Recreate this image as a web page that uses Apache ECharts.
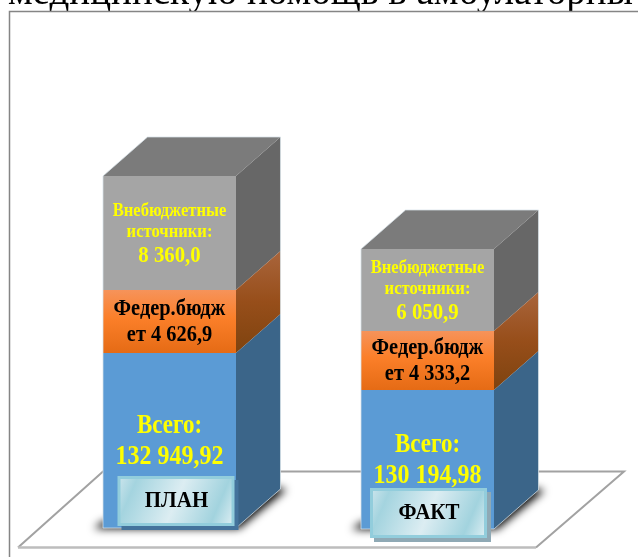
<!DOCTYPE html>
<html><head><meta charset="utf-8">
<style>html,body{margin:0;padding:0;background:#fff;overflow:hidden}#c{width:638px;height:557px}</style>
<script src="https://cdn.jsdelivr.net/npm/echarts@6/dist/echarts.min.js"></script>
</head><body><div id="c"></div>
<script>
// Categories and printed values
const categories = ['ПЛАН', 'ФАКТ'];
const totalLabels = ['132 949,92', '130 194,98'];
const federalLabels = ['4 626,9', '4 333,2'];
const extraLabels = ['8 360,0', '6 050,9'];
// Segment heights as drawn in the picture (the original is not to scale)
const baseLevels = [0, -1];
const blueHeights = [175, 139];
const orangeHeights = [63, 59];
const grayHeights = [114, 82];
const tagLifts = [27, 16];

const title = 'медицинскую помощь в амбулаторны';
const SERIF = '"Liberation Serif","Times New Roman",serif';
const DX = 44.5, DY = 39, FAR = 1500;

const chart = echarts.init(document.getElementById('c'), null, {renderer: 'canvas'});

function vGrad(stops) {
  return {type: 'linear', x: 0, y: 0, x2: 0, y2: 1,
    colorStops: stops.map(c => ({offset: c[0], color: c[1]}))};
}
function txt(x, y, text, size, color, sy) {
  return {type: 'text', x, y, scaleY: sy || 1, silent: true,
    style: {x: 0, y: 0, text, fontFamily: SERIF, fontWeight: 'bold', fontSize: size,
      fill: color, align: 'center', verticalAlign: 'middle'}};
}
function poly(points, fill, extra) {
  return {type: 'polygon', shape: {points}, silent: true,
    style: Object.assign({fill}, extra || {})};
}

function renderBar(params, api) {
  const i = api.value(0);
  const cx = api.coord([i, 0])[0];
  const w = api.size([1, 0])[0] * 0.5155;
  const x0 = cx - w / 2, x1 = cx + w / 2;
  const b = api.value(1), h1 = api.value(2), h2 = api.value(3), h3 = api.value(4);
  const y0 = api.coord([i, b])[1];
  const y1 = api.coord([i, b + h1])[1];
  const y2 = api.coord([i, b + h1 + h2])[1];
  const y3 = api.coord([i, b + h1 + h2 + h3])[1];

  const side = (ya, yb, fill) => poly([[x1, ya], [x1 + DX, ya - DY], [x1 + DX, yb - DY], [x1, yb]], fill);
  const front = (ya, yb, fill) => ({type: 'rect', shape: {x: x0, y: ya, width: w, height: yb - ya}, silent: true, style: {fill}});
  const orangeFront = vGrad([[0, '#f6935a'], [0.45, '#fb7f29'], [1, '#e56b15']]);
  const orangeSide = vGrad([[0, '#a9653c'], [0.5, '#974e1a'], [1, '#7e430f']]);

  const tagW = 117, tagH = 50;
  const tagX = x0 + (i === 1 ? 9 : 14.5);
  const tagY = y0 - tagLifts[i] - tagH / 2;
  const tagFill = {type: 'linear', x: 0, y: 0, x2: 1, y2: 1, colorStops: [
    {offset: 0, color: '#cfe6ed'}, {offset: 0.15, color: '#a4d4df'}, {offset: 0.5, color: '#dcedf2'},
    {offset: 0.82, color: '#a2d3de'}, {offset: 1, color: '#e2f1f5'}]};

  const shadowPts = [[x0 - 9, y0 + 0.5], [x1 + 3, y0 + 0.5], [x1 + DX + 6, y0 - DY + 0.5], [x1 + DX - 6, y0 - DY - 2], [x0 - 1, y0 - 6]]
    .map(p => [p[0] - FAR, p[1]]);

  return {type: 'group', children: [
    poly(shadowPts, '#000', {shadowBlur: 8, shadowColor: 'rgba(0,0,0,1)', shadowOffsetX: FAR}),
    side(y3, y2, '#676767'),
    side(y2, y1, orangeSide),
    side(y1, y0, '#3b6589'),
    poly([[x0, y3], [x0 + DX, y3 - DY], [x1 + DX, y3 - DY], [x1, y3]], '#7b7b7b'),
    front(y3, y2, '#a5a5a5'),
    front(y2, y1, orangeFront),
    front(y1, y0, '#5b9bd5'),
    {type: 'polygon', silent: true, shape: {points: [[x0, y0], [x0, y3], [x0 + DX, y3 - DY], [x1 + DX, y3 - DY], [x1 + DX, y0 - DY], [x1, y0]]},
      style: {fill: 'none', stroke: 'rgba(215,225,232,0.75)', lineWidth: 1}},
    txt(cx, (y2 + y3) / 2 - 22, 'Внебюджетные', 16.6, '#ffff00', 1.1),
    txt(cx, (y2 + y3) / 2 - 1, 'источники:', 16.6, '#ffff00', 1.1),
    txt(cx, (y2 + y3) / 2 + 23, extraLabels[i], 20.8, '#ffff00', 1.12),
    txt(cx, (y1 + y2) / 2 - 12, 'Федер.бюдж', 20.4, '#000', 1.08),
    txt(cx, (y1 + y2) / 2 + 14, 'ет ' + federalLabels[i], 20.4, '#000', 1.08),
    txt(cx, (y0 + y1) / 2 - 15, 'Всего:', 23, '#ffff00', 1.18),
    txt(cx, (y0 + y1) / 2 + 17, totalLabels[i], 24, '#ffff00', 1.1),
    {type: 'rect', silent: true, shape: {x: tagX + 4, y: tagY + 4, width: tagW, height: tagH}, style: {fill: i ? '#8fa9b5' : '#44739c'}},
    {type: 'rect', silent: true, shape: {x: tagX + 1.5, y: tagY + 1.5, width: tagW - 3, height: tagH - 3},
      style: {fill: tagFill, stroke: '#92cddc', lineWidth: 3}},
    txt(tagX + tagW / 2 + 0.5, tagY + tagH / 2, categories[i], 21, '#000', 1.05)
  ]};
}

const barRows = categories.map((c, i) => [i, baseLevels[i], blueHeights[i], orangeHeights[i], grayHeights[i]]);

chart.setOption({
  animation: false,
  backgroundColor: '#fff',
  grid: {left: 40.5, width: 516, top: 0, height: 557},
  xAxis: {type: 'category', data: categories, show: false},
  yAxis: {type: 'value', min: -29, max: 528, show: false},
  graphic: [
    {type: 'text', x: 8, y: 13.5, silent: true, z: 0,
      style: {text: title, fontFamily: SERIF, fontSize: 39, fill: '#000', verticalAlign: 'bottom'}},
    {type: 'rect', silent: true, z: 1, shape: {x: 9.5, y: 11.5, width: 700, height: 620},
      style: {fill: '#fff', stroke: '#858585', lineWidth: 1.5}},
    {type: 'polygon', silent: true, z: 1, shape: {points: [[18, 547], [536, 547], [624, 471.5], [103, 471.5]]},
      style: {fill: '#fff'}},
    {type: 'polyline', silent: true, z: 1, shape: {points: [[536, 547.5], [624, 471.5], [103, 471.5], [18, 547.5]]},
      style: {fill: 'none', stroke: '#a2a2a2', lineWidth: 2}},
    {type: 'line', silent: true, z: 1, shape: {x1: 18, y1: 547.5, x2: 536, y2: 547.5},
      style: {stroke: '#bdbdbd', lineWidth: 2.5}}
  ],
  series: [{
    type: 'custom', coordinateSystem: 'cartesian2d', renderItem: renderBar, clip: false,
    encode: {x: 0, y: 1}, data: barRows, z: 3
  }]
});
</script></body></html>
